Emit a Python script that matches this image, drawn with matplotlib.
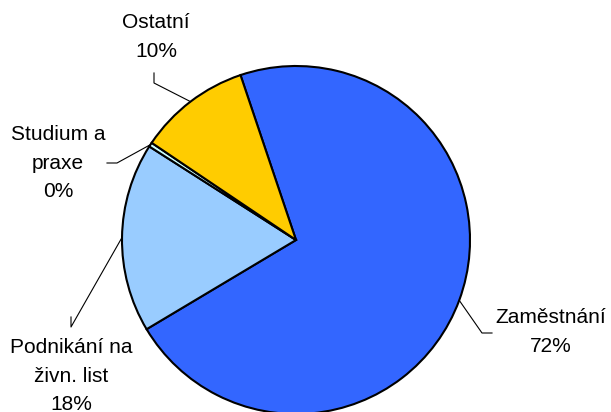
import numpy as np
import matplotlib
matplotlib.use('Agg')
import matplotlib.pyplot as plt

plt.rcParams['font.family'] = ['Liberation Sans', 'DejaVu Sans']

# data (share in %)
labels = ['Zaměstnání', 'Podnikání na\nživn. list', 'Studium a\npraxe', 'Ostatní']
values = [71.6, 17.6, 0.4, 10.4]
colors = ['#3366FF', '#99CCFF', '#CCFFFF', '#FFCC00']

# label text position and leader line (end, elbow) in pixel coords, y up
text_pos = [(551, 80), (71, 36), (58, 249), (156, 375)]
leader = [((492, 79), (482, 79)),
          ((71, 95), (71, 85)),
          ((107, 249), (117, 249)),
          ((154, 339), (154, 329))]

fig = plt.figure(figsize=(6.11, 4.12), dpi=100)
ax = fig.add_axes([0, 0, 1, 1])
ax.set_xlim(0, 611)
ax.set_ylim(0, 412)
ax.set_aspect('equal')
ax.axis('off')

cx, cy, r = 296, 172, 174
wedges, _ = ax.pie(values, colors=colors, startangle=108.6, counterclock=False,
                   center=(cx, cy), radius=r,
                   wedgeprops=dict(edgecolor='black', linewidth=1.5))
ax.set_xlim(0, 611)
ax.set_ylim(0, 412)

for w, lab, val, tp, (p_end, p_elbow) in zip(wedges, labels, values, text_pos, leader):
    mid = np.deg2rad((w.theta1 + w.theta2) / 2)
    ex, ey = cx + r * np.cos(mid), cy + r * np.sin(mid)
    ax.plot([p_end[0], p_elbow[0], ex], [p_end[1], p_elbow[1], ey],
            color='black', linewidth=0.8)
    ax.text(tp[0], tp[1], f'{lab}\n{round(val):.0f}%', ha='center', va='center',
            fontsize=15, linespacing=1.65)

fig.savefig('out.png', dpi=100)
